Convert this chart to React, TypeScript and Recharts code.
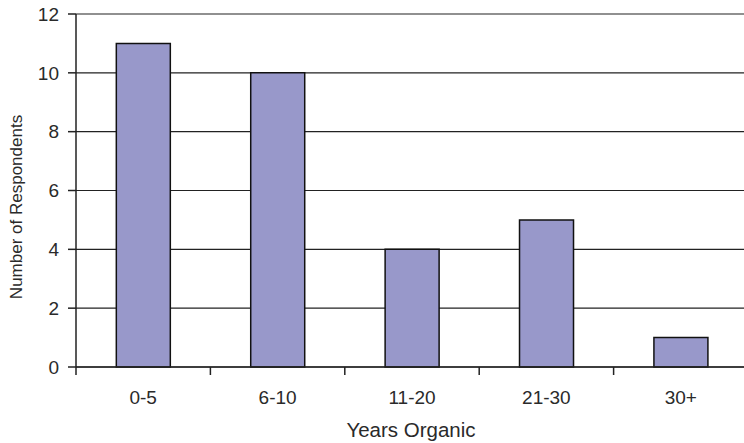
import { BarChart, Bar, XAxis, YAxis, CartesianGrid } from 'recharts';

const categories = ['0-5', '6-10', '11-20', '21-30', '30+'];
const respondents = [11, 10, 4, 5, 1];
const yTicks = [0, 2, 4, 6, 8, 10, 12];

const data = categories.map((name, i) => ({ name, value: respondents[i] }));

// plot spans 76..748, so the last category runs past the visible edge
const PLOT_LEFT = 76;
const PLOT_WIDTH = 672;
const BAND = PLOT_WIDTH / categories.length;
const AXIS_Y = 367;
const FONT = 'Liberation Sans, Arial, sans-serif';
const TEXT = '#2a2a2a';

// tick mark sits on the category boundary, label in the middle of the band
const CategoryTick = ({ x, payload }: any) => (
  <g>
    <line x1={x - BAND / 2} y1={AXIS_Y} x2={x - BAND / 2} y2={AXIS_Y + 8} stroke="#222" strokeWidth={1.5} />
    <text x={x} y={AXIS_Y + 37} textAnchor="middle" fill={TEXT} fontSize={19} fontFamily={FONT}>
      {payload.value}
    </text>
  </g>
);

const App = () => {
  return (
    <div style={{ position: 'fixed', left: 0, top: 0, width: 744, height: 443, overflow: 'hidden', background: '#fff' }}>
      <BarChart
        width={760}
        height={443}
        data={data}
        margin={{ top: 14, right: 760 - PLOT_LEFT - PLOT_WIDTH, left: 0, bottom: 0 }}
        barCategoryGap="30%"
      >
        <CartesianGrid vertical={false} stroke="#222" strokeWidth={1.2} />
        <XAxis
          dataKey="name"
          height={443 - AXIS_Y}
          axisLine={{ stroke: '#222', strokeWidth: 1.5 }}
          tickLine={false}
          tick={<CategoryTick />}
          interval={0}
        />
        <YAxis
          width={PLOT_LEFT}
          domain={[0, 12]}
          ticks={yTicks}
          interval={0}
          tickSize={8}
          tickMargin={9}
          axisLine={{ stroke: '#222', strokeWidth: 1.5 }}
          tickLine={{ stroke: '#222', strokeWidth: 1.5 }}
          tick={{ fill: TEXT, fontSize: 19, fontFamily: FONT }}
        />
        <Bar dataKey="value" fill="#9898ca" stroke="#111" strokeWidth={1.5} isAnimationActive={false} />
      </BarChart>
      {/* axis titles */}
      <svg width={744} height={443} style={{ position: 'absolute', left: 0, top: 0, pointerEvents: 'none' }}>
        <text
          x={22}
          y={207}
          transform="rotate(-90 22 207)"
          textAnchor="middle"
          fill={TEXT}
          fontSize={17}
          fontFamily={FONT}
        >
          Number of Respondents
        </text>
        <text x={411} y={437} textAnchor="middle" fill={TEXT} fontSize={20.5} fontFamily={FONT}>
          Years Organic
        </text>
      </svg>
    </div>
  );
};

export default App;
